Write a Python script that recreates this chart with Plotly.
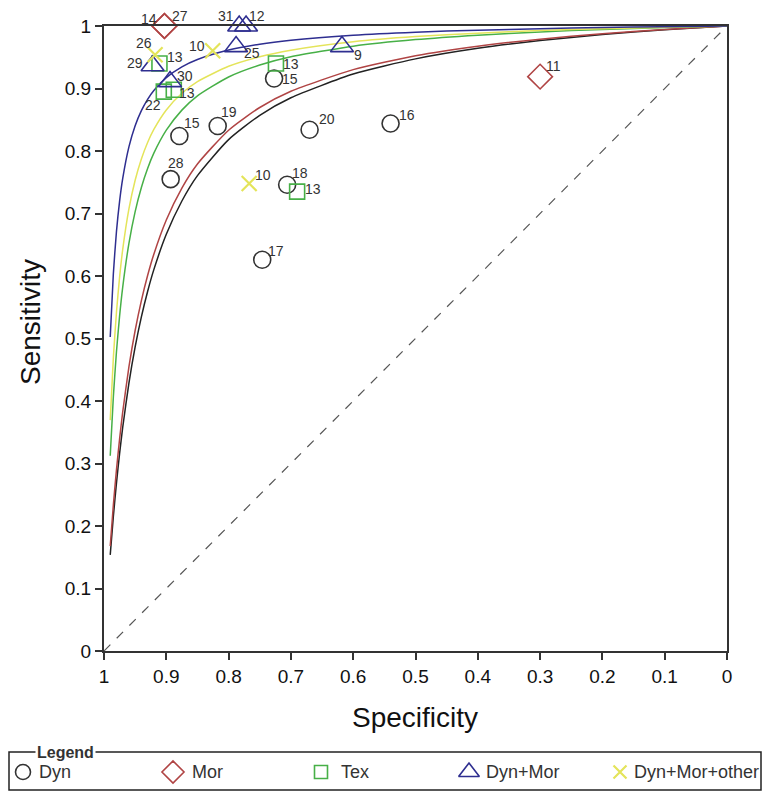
import plotly.graph_objects as go

# ---------------- data ----------------
tick_vals = [0, 0.1, 0.2, 0.3, 0.4, 0.5, 0.6, 0.7, 0.8, 0.9, 1]
tick_text = ["0", "0.1", "0.2", "0.3", "0.4", "0.5", "0.6", "0.7", "0.8", "0.9", "1"]

dyn_spec = [0.727, 0.879, 0.8175, 0.670, 0.540, 0.893, 0.706, 0.746]
dyn_sens = [0.916, 0.824, 0.840, 0.834, 0.844, 0.755, 0.746, 0.626]
dyn_ids = ["15", "15", "19", "20", "16", "28", "18", "17"]

mor_spec = [0.903, 0.903, 0.300]
mor_sens = [1.0, 1.0, 0.919]
mor_ids = ["14", "27", "11"]

tex_spec = [0.911, 0.904, 0.888, 0.724, 0.690]
tex_sens = [0.940, 0.895, 0.898, 0.940, 0.735]
tex_ids = ["13", "22", "13", "13", "13"]

dm_spec = [0.783, 0.772, 0.788, 0.618, 0.922, 0.894]
dm_sens = [1.0, 1.0, 0.967, 0.967, 0.9365, 0.911]
dm_ids = ["31", "12", "25", "9", "29", "30"]

dmo_spec = [0.918, 0.8255, 0.767]
dmo_sens = [0.954, 0.9605, 0.748]
dmo_ids = ["26", "10", "10"]

# SROC curves
curve_spec = [0.99, 0.985, 0.98, 0.975, 0.97, 0.96, 0.95, 0.94, 0.93, 0.92, 0.90, 0.875,
              0.85, 0.80, 0.75, 0.70, 0.60, 0.50, 0.40, 0.30, 0.20, 0.10, 0.0]
curve_dm = [.5025, .6036, .6711, .7194, .7557, .8065, .8403, .8645, .8827, .8969, .9174, .9346,
            .9464, .9615, .9709, .9772, .9852, .9901, .9934, .9957, .9975, .9989, 1.0]
curve_dmo = [.3694, .4690, .5421, .5979, .6421, .7073, .7532, .7873, .8136, .8345, .8657, .8923,
             .9110, .9355, .9508, .9613, .9748, .9831, .9886, .9927, .9957, .9981, 1.0]
curve_tex = [.3125, .4066, .4787, .5357, .5819, .6522, .7031, .7417, .7721, .7965, .8333, .8654,
             .8882, .9184, .9375, .9507, .9677, .9783, .9854, .9906, .9945, .9975, 1.0]
curve_mor = [.1681, .2334, .2899, .3390, .3822, .4545, .5128, .5607, .6009, .6349, .6897, .7407,
             .7792, .8333, .8696, .8955, .9302, .9524, .9677, .9790, .9877, .9945, 1.0]
curve_dyn = [.1538, .2151, .2687, .3158, .3576, .4286, .4865, .5347, .5753, .6102, .6667, .7200,
             .7606, .8182, .8571, .8852, .9231, .9474, .9643, .9767, .9863, .9939, 1.0]

diag_spec = [1, 0]
diag_sens = [0, 1]

# ---------------- styles ----------------
C_DYN = "#333333"
C_MOR = "#b04444"
C_TEX = "#47b047"
C_DM = "#2e2e90"
C_DMO = "#e4e45a"

# label offsets (px) from marker centre: (dx, dy) with dy positive downward
dyn_off = [(16, 0), (13, -13), (11, -14), (17, -11), (16, -9), (5, -16), (13, -12), (14, -9)]
mor_off = [(-15, -7), (16, -10), (13, -11)]
tex_off = [(16, -7), (-11, 13), (13, 3), (15, 0), (16, -3)]
dm_off = [(-13, -10), (11, -10), (16, 6), (16, 8), (-18, -3), (15, -6)]
dmo_off = [(-11, -12), (-16, -5), (14, -9)]

# legend key layout (page pixels)
key_sym_x = [23, 173, 321, 469, 620]
key_txt_x = [37, 190, 339, 484, 632]
key_y = 772

FONT = "Liberation Sans, Arial, sans-serif"
OFF = 8                     # page body margin in the browser
W, H = 774 - OFF, 804 - OFF
PL, PR, PT, PB = 104 - OFF, 727 - OFF, 26 - OFF, 651 - OFF   # plot area in figure pixels


def px(xp):
    return (xp - OFF) / W


def py(yp):
    return (H - (yp - OFF)) / H


fig = go.Figure()

fig.add_trace(go.Scatter(x=diag_spec, y=diag_sens, mode="lines",
                         line=dict(color="#555555", width=1.2, dash="dash"),
                         showlegend=False, hoverinfo="skip"))

for ys, col in [(curve_dyn, "#222222"), (curve_mor, C_MOR), (curve_tex, C_TEX),
                (curve_dmo, C_DMO), (curve_dm, C_DM)]:
    fig.add_trace(go.Scatter(x=curve_spec, y=ys, mode="lines",
                             line=dict(color=col, width=1.5, shape="spline", smoothing=0.6),
                             showlegend=False, hoverinfo="skip"))

groups = [
    ("Dyn", dyn_spec, dyn_sens, dyn_ids, dyn_off, C_DYN, "circle-open", 17, 1.6),
    ("Mor", mor_spec, mor_sens, mor_ids, mor_off, C_MOR, "diamond-open", 19, 1.6),
    ("Tex", tex_spec, tex_sens, tex_ids, tex_off, C_TEX, "square-open", 15, 1.6),
    ("Dyn+Mor", dm_spec, dm_sens, dm_ids, dm_off, C_DM, "triangle-up-open", 20, 1.6),
    ("Dyn+Mor+other", dmo_spec, dmo_sens, dmo_ids, dmo_off, C_DMO, "x-thin-open", 15, 2.2),
]

annotations = []
for i, (name, xs, ys, ids, offs, col, sym, size, lw) in enumerate(groups):
    fig.add_trace(go.Scatter(x=xs, y=ys, mode="markers", name=name,
                             marker=dict(symbol=sym, size=size, color=col,
                                         line=dict(color=col, width=lw)),
                             cliponaxis=False, showlegend=False))
    for xv, yv, t, (dx, dy) in zip(xs, ys, ids, offs):
        annotations.append(dict(x=xv, y=yv, xref="x", yref="y", text=t, showarrow=False,
                                xanchor="center", yanchor="middle", xshift=dx, yshift=-dy,
                                font=dict(family=FONT, size=14, color="#333333")))
    # legend key
    fig.add_trace(go.Scatter(x=[key_sym_x[i]], y=[key_y], mode="markers", xaxis="x2", yaxis="y2",
                             marker=dict(symbol=sym, size=size - 2, color=col,
                                         line=dict(color=col, width=lw)),
                             cliponaxis=False, showlegend=False, hoverinfo="skip"))
    annotations.append(dict(x=key_txt_x[i], y=key_y, xref="x2", yref="y2", text=name,
                            showarrow=False, xanchor="left", yanchor="middle",
                            font=dict(family=FONT, size=18, color="#333333")))

axis_common = dict(
    tickvals=tick_vals, ticktext=tick_text, ticks="outside",
    ticklen=7, tickwidth=1.5, tickcolor="#333333", showgrid=False, zeroline=False,
    showline=True, linecolor="#333333", linewidth=2, mirror=True, automargin=False,
    tickfont=dict(family=FONT, size=19, color="#111111"),
)

fig.update_layout(
    xaxis=dict(range=[1, 0], domain=[PL / W, PR / W], anchor="y", **axis_common),
    yaxis=dict(range=[0, 1], domain=[(H - PB) / H, (H - PT) / H], anchor="x", **axis_common),
    xaxis2=dict(range=[OFF, 774], domain=[0, 1], anchor="y2", visible=False, fixedrange=True),
    yaxis2=dict(range=[804, OFF], domain=[0, 1], anchor="x2", visible=False, fixedrange=True),
)

annotations += [
    dict(text="<b>Legend</b>", xref="paper", yref="paper", x=px(35), y=py(752),
         xanchor="left", yanchor="middle", showarrow=False, bgcolor="white",
         font=dict(family=FONT, size=16, color="#333333"), borderpad=1),
    dict(text="Specificity", xref="paper", yref="paper", x=px(415), y=py(717),
         xanchor="center", yanchor="middle", showarrow=False,
         font=dict(family=FONT, size=28, color="#111111")),
    dict(text="Sensitivity", xref="paper", yref="paper", x=px(30), y=py(322),
         xanchor="center", yanchor="middle", showarrow=False, textangle=-90,
         font=dict(family=FONT, size=28, color="#111111")),
]

fig.update_layout(
    template="none",
    width=W, height=H,
    margin=dict(l=0, r=0, t=0, b=0, pad=0),
    paper_bgcolor="white", plot_bgcolor="rgba(0,0,0,0)",
    font=dict(family=FONT, color="#111111"),
    showlegend=False,
    shapes=[dict(type="rect", xref="paper", yref="paper",
                 x0=px(9), x1=px(761), y0=py(790), y1=py(752),
                 line=dict(color="#222222", width=1.5), fillcolor="rgba(0,0,0,0)")],
    annotations=annotations,
)

fig.write_html("out.html")
